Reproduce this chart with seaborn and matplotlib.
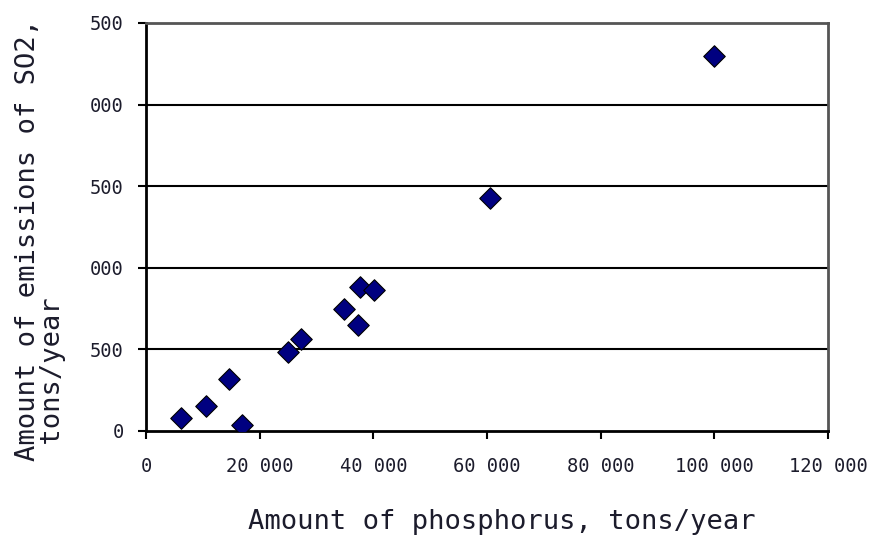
import numpy as np
import pandas as pd
import matplotlib
matplotlib.use("Agg")
import matplotlib.pyplot as plt
import seaborn as sns

# values
phosphorus = [100000, 60500, 37600, 40100, 34800, 37300, 27300, 25000, 14600, 10600, 6200, 16900]
so2 = [2300, 1430, 880, 862, 748, 650, 566, 484, 320, 153, 82, 38]

x_ticks = [0, 20000, 40000, 60000, 80000, 100000, 120000]
x_labels = ['0', '20 000', '40 000', '60 000', '80 000', '100 000', '120 000']
y_ticks = [0, 500, 1000, 1500, 2000, 2500]
y_labels = ['0', '500', '000', '500', '000', '500']  # leading digits are cut off in the original

df = pd.DataFrame({'phosphorus': phosphorus, 'so2': so2})

sns.set_theme(style='white')
plt.rcParams['font.family'] = ['DejaVu Sans Mono', 'DejaVu Sans']
txt_color = '#1c1c2c'

fig = plt.figure(figsize=(8.76, 5.36), dpi=100)
ax = fig.add_axes([146 / 876, 1 - 431 / 536, (828 - 146) / 876, (431 - 23) / 536])

sns.scatterplot(data=df, x='phosphorus', y='so2', marker='D', s=120,
                color='#000080', edgecolor='black', linewidth=0.8, ax=ax, zorder=3)

ax.set_xlim(0, 120000)
ax.set_ylim(0, 2500)
ax.set_xticks(x_ticks)
ax.set_xticklabels(x_labels, fontsize=13.5, color=txt_color)
ax.set_yticks(y_ticks)
ax.set_yticklabels(y_labels, fontsize=13.5, color=txt_color)
ax.tick_params(axis='both', direction='out', length=6, width=1.5, color='black',
               bottom=True, left=True)
ax.tick_params(axis='x', pad=13)
ax.tick_params(axis='y', pad=10)

for yv in y_ticks[1:-1]:
    ax.axhline(yv, color='black', lw=1.5, zorder=1)

ax.spines['left'].set_color('black')
ax.spines['bottom'].set_color('black')
ax.spines['left'].set_linewidth(2)
ax.spines['bottom'].set_linewidth(2)
ax.spines['top'].set_color('#555555')
ax.spines['right'].set_color('#555555')
ax.spines['top'].set_linewidth(2)
ax.spines['right'].set_linewidth(2)

ax.set_xlabel('')
ax.set_ylabel('')
fig.text(502 / 876, 1 - 522 / 536, 'Amount of phosphorus, tons/year', ha='center', va='center',
         fontsize=19.5, color=txt_color)
fig.text(41 / 876, 1 - 240 / 536, 'Amount of emissions of SO2,\n tons/year', rotation=90,
         ha='center', va='center', multialignment='left', fontsize=19.5, color=txt_color,
         linespacing=0.95)

fig.savefig('out.png', dpi=100)
